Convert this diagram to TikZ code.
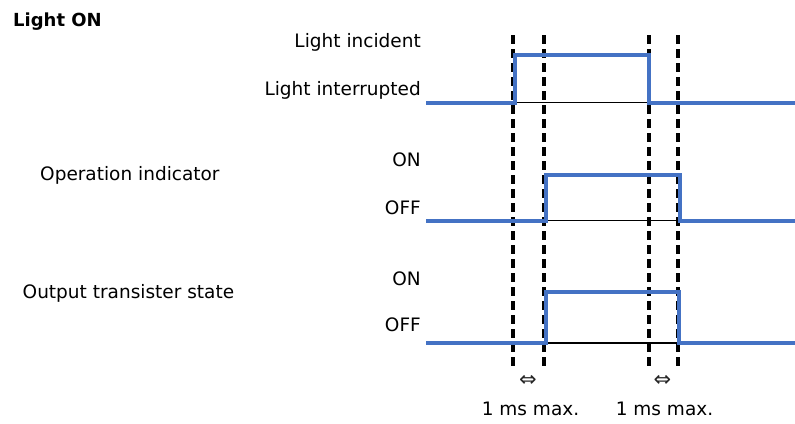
\documentclass[tikz,border=0pt]{standalone}
\usepackage{fontspec}
\setmainfont{DejaVu Sans}
\definecolor{sigblue}{HTML}{4472C4}
\begin{document}
\begin{tikzpicture}[x=1pt,y=-1pt,
  lbl/.style={inner sep=0pt,font=\fontsize{18.5}{22}\selectfont},
  sig/.style={draw=sigblue,line width=4pt},
  base/.style={draw=black,line width=1.8pt},
  guide/.style={draw=black,line width=3.2pt,dash pattern=on 9pt off 5pt}]
\useasboundingbox (0,0) rectangle (795,423);
% titles and labels
\node[lbl,anchor=base west,font=\fontsize{18}{22}\selectfont\bfseries] (title) at (13,26) {Light ON};
\node[lbl,anchor=base east] (inc) at (421,47.5) {Light incident};
\node[lbl,anchor=base east] (intr) at (421,95) {Light interrupted};
\node[lbl,anchor=base west] (opind) at (40,180.5) {Operation indicator};
\node[lbl,anchor=base east] (on1) at (421,166.5) {ON};
\node[lbl,anchor=base east] (off1) at (421,214) {OFF};
\node[lbl,anchor=base west] (outst) at (22.5,298) {Output transister state};
\node[lbl,anchor=base east] (on2) at (421,285) {ON};
\node[lbl,anchor=base east] (off2) at (421,331.5) {OFF};
% guide lines
\foreach \n/\x in {g1/513,g2/544,g3/649,g4/678}{
  \coordinate (\n t) at (\x,35);
  \coordinate (\n b) at (\x,368);
}
% baselines
\draw[base] (515,102.5) -- (649,102.5);
\draw[base] (546,220.5) -- (680,220.5);
\draw[base] (546,343) -- (679,343);
\foreach \n in {g1,g2,g3,g4}{ \draw[guide] (\n t) -- (\n b); }
% signals
\draw[sig] (426,102.5) -- (515,102.5) -- (515,55) -- (649,55) -- (649,102.5) -- (795,102.5);
\draw[sig] (426,220.5) -- (546,220.5) -- (546,174.5) -- (680,174.5) -- (680,220.5) -- (795,220.5);
\draw[sig] (426,343) -- (546,343) -- (546,292) -- (679,292) -- (679,343) -- (795,343);
% timing labels
\node[lbl,font=\fontsize{21}{24}\selectfont,text=black!85] (arr1) at (528,381) {⇔};
\node[lbl,font=\fontsize{21}{24}\selectfont,text=black!85] (arr2) at (662.5,381) {⇔};
\node[lbl,anchor=base] (t1) at (530.5,415) {1 ms max.};
\node[lbl,anchor=base] (t2) at (664.5,415) {1 ms max.};
\end{tikzpicture}
\end{document}
